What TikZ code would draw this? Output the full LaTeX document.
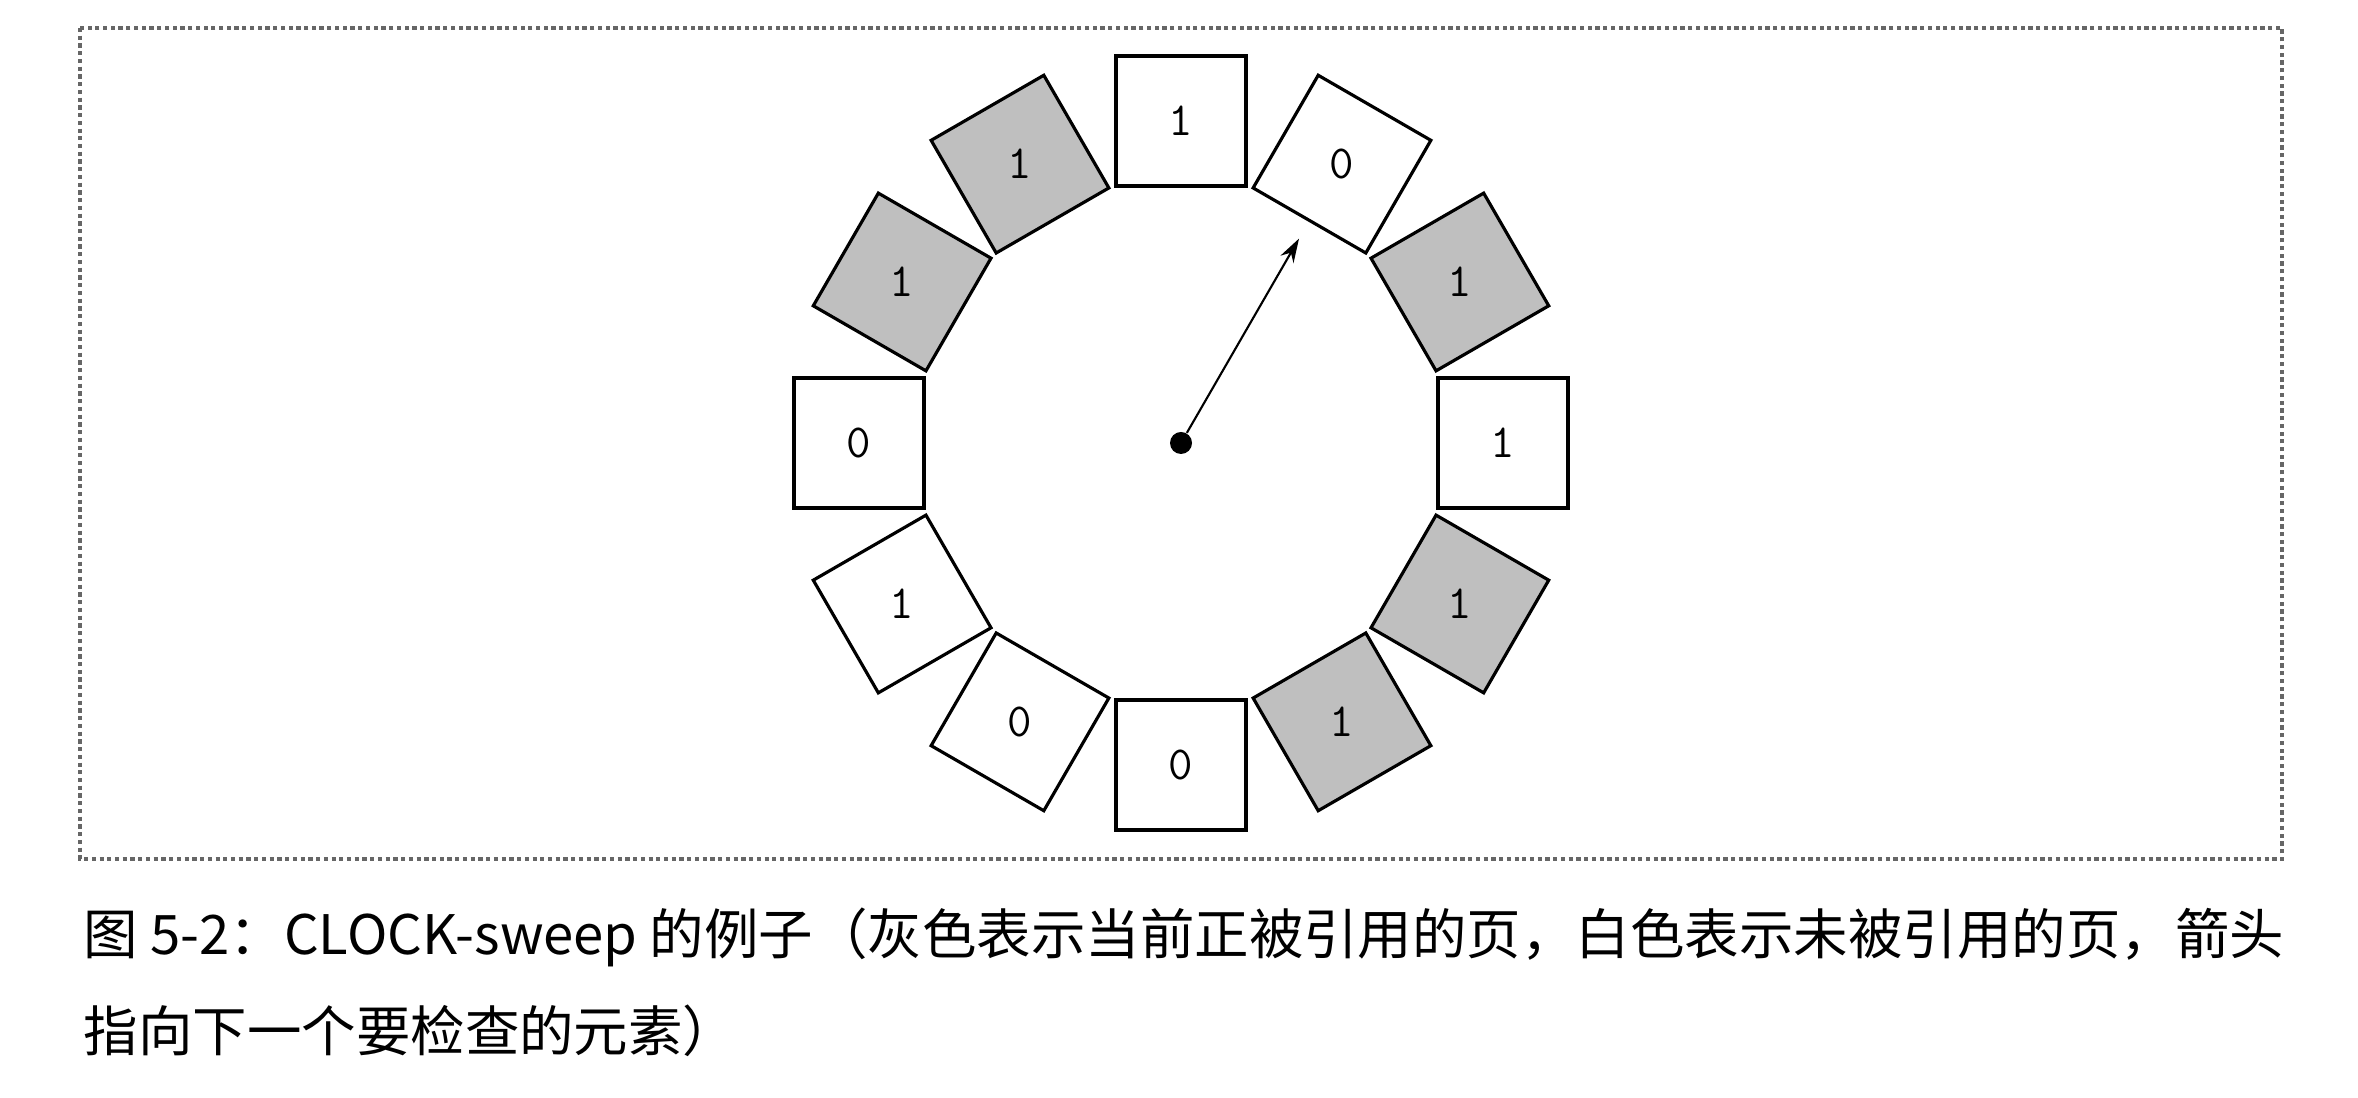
\documentclass[tikz,border=0pt]{standalone}
\usepackage{fontspec}
\newfontfamily\cjkfont{Noto Sans CJK SC}
\usepackage{tikz}
\usetikzlibrary{calc}
\usetikzlibrary{shapes.geometric}
\usetikzlibrary{arrows.meta}
\tikzset{
  page/.style={regular polygon, regular polygon sides=4, minimum size=1.84cm, inner sep=0pt,
    draw=black, line width=0.9pt, font=\ttfamily\fontsize{13.5}{15}\selectfont},
  used/.style={page, fill=black!25},
  unused/.style={page, fill=white},
  caption/.style={anchor=west, inner sep=0pt, font=\cjkfont\fontsize{15.5}{18}\selectfont}
}

\begin{document}
\begin{tikzpicture}
  \useasboundingbox (0,0) rectangle (23.58,-10.98);
  \draw[densely dotted, line width=1.2pt, color=black!60] (0.80,-0.28) rectangle (22.82,-8.59);
  \node[circle, fill=black, inner sep=0pt, minimum size=0.22cm] (hub) at (11.81,-4.43) {};
  \foreach \a/\v/\s [count=\i, evaluate=\a as \rot using \a-90] in
      {90/1/unused, 60/0/unused, 30/1/used, 0/1/unused, -30/1/used, -60/1/used,
       -90/0/unused, -120/0/unused, -150/1/unused, 180/0/unused, 150/1/used, 120/1/used}
    \node[\s, shape border rotate=\rot] (p\i) at ($(hub)+(\a:3.22)$) {\v};
  \coordinate (hand) at ($(hub)+(60:2.36)$);
  \draw[line width=0.6pt, -{Stealth[length=2.4mm,width=1.5mm]}] (hub) -- (hand);
  \node[caption] (cap1) at (0.83,-9.37) {图 5-2：CLOCK-sweep 的例子（灰色表示当前正被引用的页，白色表示未被引用的页，箭头};
  \node[caption] (cap2) at (0.83,-10.31) {指向下一个要检查的元素）};
\end{tikzpicture}
\end{document}
